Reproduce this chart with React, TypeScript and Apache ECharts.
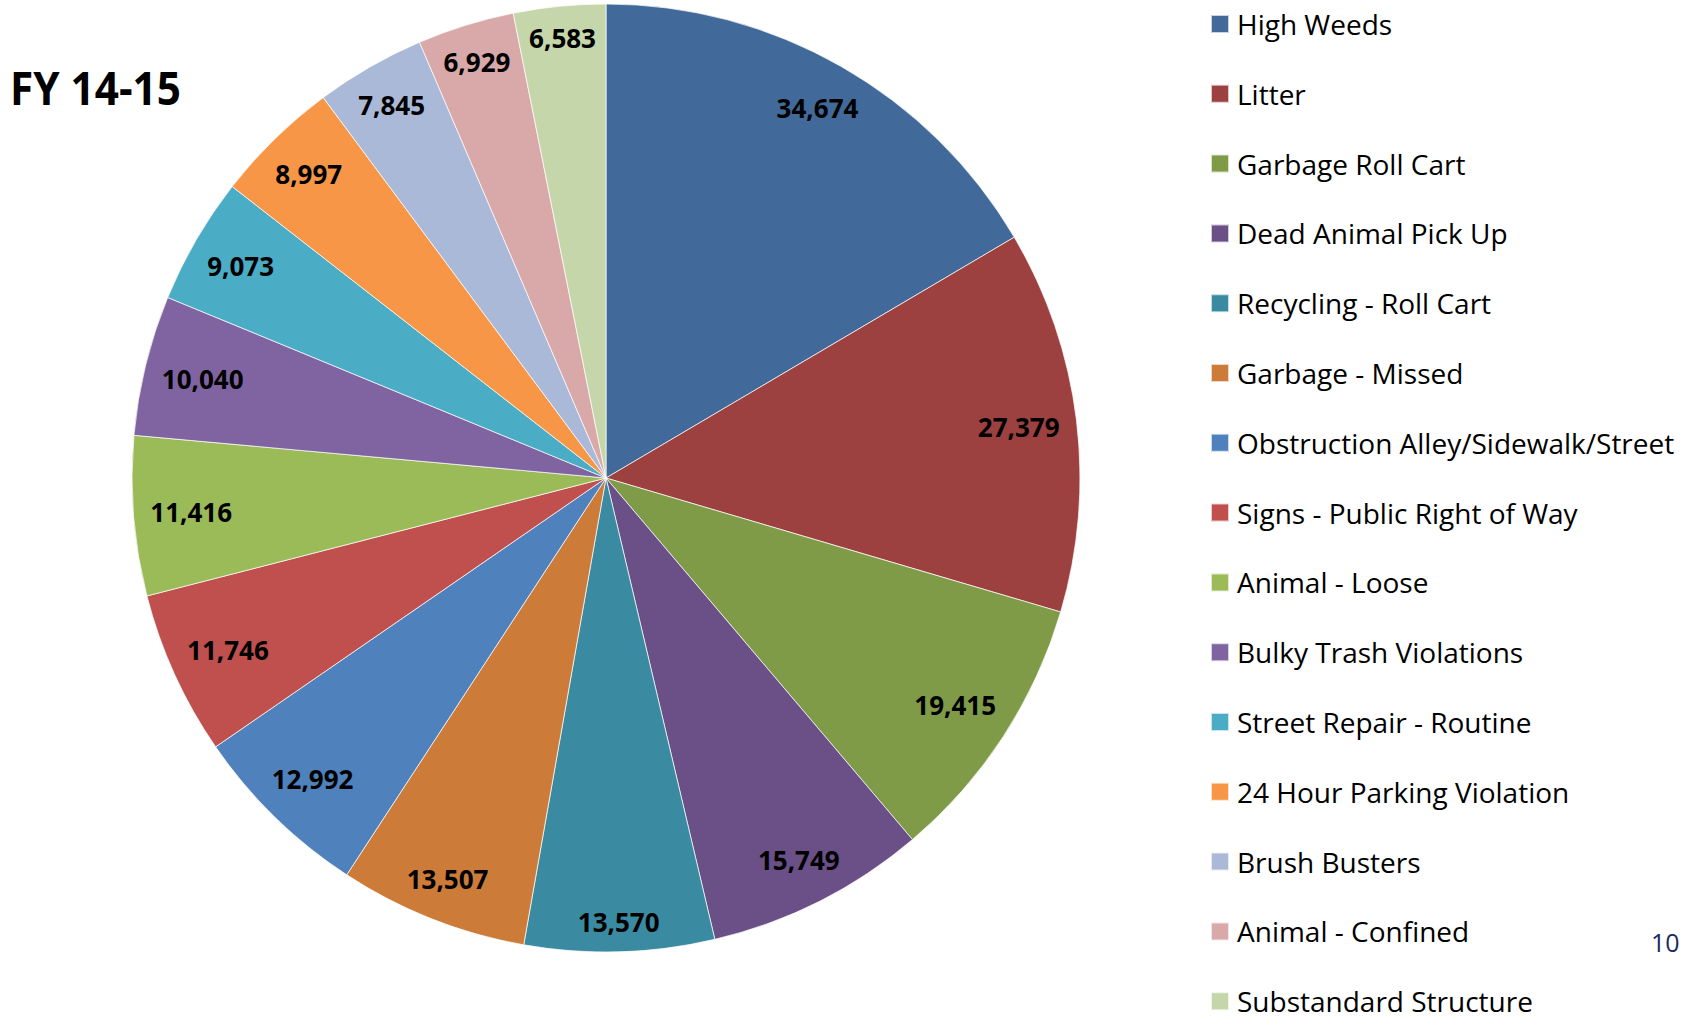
import React, { useEffect, useRef } from "react";
import * as echarts from "echarts";

const categories = [
  "High Weeds",
  "Litter",
  "Garbage Roll Cart",
  "Dead Animal Pick Up",
  "Recycling - Roll Cart",
  "Garbage - Missed",
  "Obstruction Alley/Sidewalk/Street",
  "Signs - Public Right of Way",
  "Animal - Loose",
  "Bulky Trash Violations",
  "Street Repair - Routine",
  "24 Hour Parking Violation",
  "Brush Busters",
  "Animal - Confined",
  "Substandard Structure",
];

const values = [
  34674, 27379, 19415, 15749, 13570, 13507, 12992, 11746, 11416, 10040, 9073,
  8997, 7845, 6929, 6583,
];

const colors = [
  "#416A9B",
  "#9D4140",
  "#7F9B48",
  "#6A5087",
  "#3A8BA2",
  "#CC7B39",
  "#4F81BD",
  "#C0504D",
  "#9BBB59",
  "#8064A2",
  "#4BACC6",
  "#F79646",
  "#AAB9D7",
  "#D9A9A9",
  "#C6D6AB",
];

const title = "FY 14-15";
const pageNumber = "10";

export default function App() {
  const ref = useRef<HTMLDivElement>(null);

  useEffect(() => {
    if (!ref.current) return;
    const chart = echarts.init(ref.current, undefined, { renderer: "svg" });
    const R = 474;
    const cx = 606;
    const cy = 478;
    const margin = 16;
    const total = values.reduce((a, b) => a + b, 0);
    const midAngles: number[] = [];
    let cum = 0;
    values.forEach((v) => {
      const mid = 90 - ((cum + v / 2) / total) * 360;
      midAngles.push((mid * Math.PI) / 180);
      cum += v;
    });
    const data = categories.map((name, i) => ({
      name,
      value: values[i],
      itemStyle: { color: colors[i] },
    }));
    chart.setOption({
      animation: false,
      backgroundColor: "#ffffff",
      legend: {
        orient: "vertical",
        left: 1210,
        top: 10,
        height: 1060,
        padding: 0,
        itemWidth: 18,
        itemHeight: 18,
        itemGap: 41.8,
        icon: "rect",
        selectedMode: false,
        data: categories,
        textStyle: {
          fontFamily: "Open Sans",
          fontSize: 28,
          color: "#000000",
          padding: [0, 0, 0, 3],
        },
      },
      graphic: [
        {
          type: "text",
          left: 10,
          top: 64,
          scaleX: 0.92,
          style: {
            text: title,
            fontFamily: "Open Sans",
            fontWeight: "bold",
            fontSize: 46,
            fill: "#000000",
          },
        },
        {
          type: "text",
          left: 1651,
          top: 929,
          style: {
            text: pageNumber,
            fontFamily: "Open Sans",
            fontSize: 25,
            fill: "#1c2a5e",
          },
        },
      ],
      series: [
        {
          type: "pie",
          center: [cx, cy],
          radius: [0, R],
          startAngle: 90,
          clockwise: true,
          silent: true,
          labelLine: { show: false },
          itemStyle: { borderColor: "rgba(255,255,255,0.7)", borderWidth: 1 },
          emphasis: { disabled: true },
          label: {
            show: true,
            position: "inside",
            fontFamily: "Open Sans",
            fontWeight: "bold",
            fontSize: 26,
            color: "#000000",
            formatter: (p: any) => Number(p.value).toLocaleString("en-US"),
          },
          labelLayout: (params: any) => {
            const a = midAngles[params.dataIndex];
            const w = params.labelRect.width;
            const h = params.labelRect.height;
            const c = Math.cos(a);
            const s = Math.sin(a);
            const proj = Math.abs(c) * (w / 2) + Math.abs(s) * (h / 2);
            const d = R - margin - proj;
            return {
              x: cx + d * c,
              y: cy - d * s,
              align: "center",
              verticalAlign: "middle",
            };
          },
          data,
        },
      ],
    });
    return () => chart.dispose();
  }, []);

  return (
    <div
      ref={ref}
      style={{ position: "fixed", left: 0, top: 0, width: 1700, height: 1022 }}
    />
  );
}
